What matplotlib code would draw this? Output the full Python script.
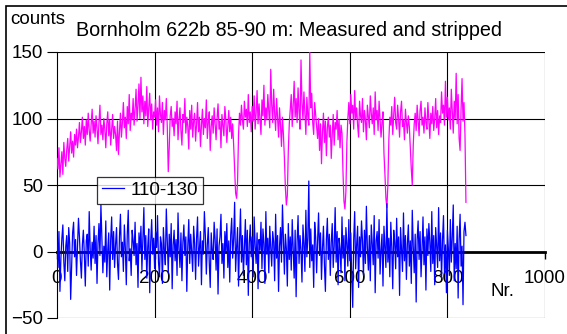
import numpy as np
import matplotlib
matplotlib.use("Agg")
import matplotlib.pyplot as plt
from matplotlib.patches import Rectangle

plt.rcParams['font.family'] = ['Liberation Sans', 'DejaVu Sans']

# ---- data ----
step = 2
measured = [
    70, 62, 78, 56, 66, 75, 58, 82, 70, 64, 77, 85, 68, 79, 90, 74, 83, 71, 88, 80,
    92, 78, 86, 97, 82, 90, 101, 85, 94, 80, 99, 88, 104, 91, 83, 96, 107, 89, 98, 86,
    102, 93, 81, 97, 110, 88, 95, 84, 100, 92, 78, 96, 105, 87, 99, 80, 91, 103, 85, 94,
    88, 76, 98, 73, 90, 104, 86, 97, 112, 93, 101, 85, 109, 96, 118, 91, 104, 99, 115, 95,
    107, 122, 98, 110, 126, 100, 131, 105, 117, 96, 113, 102, 124, 94, 108, 119, 99, 111, 92, 105,
    101, 114, 95, 108, 90, 117, 103, 97, 112, 88, 106, 99, 115, 93, 60, 78, 102, 109, 94, 100,
    87, 105, 96, 113, 84, 99, 108, 91, 80, 103, 97, 115, 89, 101, 94, 77, 106, 92, 110, 86,
    98, 104, 83, 96, 112, 90, 101, 79, 95, 107, 88, 100, 93, 114, 85, 97, 105, 76, 94, 102,
    89, 108, 96, 84, 100, 111, 92, 98, 78, 103, 95, 87, 109, 99, 82, 94, 106, 90, 101, 85,
    96, 80, 62, 44, 40, 52, 88, 104, 95, 110, 99, 92, 113, 101, 107, 94, 118, 97, 105, 90,
    109, 98, 117, 92, 104, 121, 96, 111, 100, 88, 114, 102, 125, 95, 108, 99, 118, 106, 93, 137,
    110, 97, 122, 104, 91, 115, 100, 86, 108, 95, 79, 101, 88, 70, 48, 35, 42, 76, 96, 107,
    118, 94, 110, 128, 101, 115, 97, 123, 106, 92, 144, 112, 99, 120, 104, 88, 116, 102, 95, 150,
    108, 119, 97, 88, 112, 103, 94, 85, 100, 76, 96, 66, 90, 104, 82, 98, 72, 93, 101, 86,
    95, 70, 88, 103, 80, 97, 92, 106, 84, 99, 78, 95, 89, 60, 38, 32, 45, 82, 100, 112,
    96, 118, 104, 110, 92, 121, 100, 108, 95, 86, 113, 102, 97, 115, 90, 106, 99, 84, 110, 101,
    93, 117, 104, 96, 108, 88, 120, 99, 106, 91, 113, 100, 86, 97, 105, 74, 58, 40, 33, 50,
    84, 101, 95, 109, 88, 103, 116, 97, 92, 110, 100, 86, 105, 113, 94, 99, 84, 107, 97, 89,
    102, 94, 78, 62, 50, 80, 96, 104, 91, 110, 99, 87, 106, 113, 95, 101, 89, 108, 97, 92,
    112, 98, 85, 104, 96, 109, 91, 100, 115, 93, 106, 88, 102, 97, 120, 104, 110, 95, 128, 101,
    116, 99, 108, 92, 122, 105, 89, 113, 100, 134, 96, 118, 85, 76, 107, 130, 98, 112, 88, 37,
]
stripped = [
    8, -12, 15, -30, -5, 10, 20, -8, -22, 4, 12, -15, 18, 6, -36, -10, 14, 22, -4, 9,
    -18, 3, 25, 11, -7, -20, 5, 16, -2, -26, 8, 13, -11, 30, 2, -14, 7, -5, 19, -9,
    12, -24, 6, 21, -3, 35, 10, -16, 4, -8, 23, -19, 1, 14, -29, 9, 26, -6, 15, -12,
    5, 18, -9, -21, 11, 28, -4, 7, -15, 20, 3, -25, 13, 31, -7, 2, -18, 16, 8, -3,
    22, -10, 6, -27, 14, 0, 19, -14, 9, 33, -6, 12, -20, 4, 17, -31, 7, 24, -2, 10,
    -13, 15, 3, 27, -8, -19, 11, 6, -24, 18, 1, -10, 32, 8, -16, 13, -4, 21, -28, 5,
    16, -7, 9, -18, 29, 2, -12, 14, -22, 7, 20, -3, 11, -30, 4, 24, -9, 13, 0, -15,
    19, 6, -21, 10, 26, -11, 3, 15, -25, 8, -2, 30, 12, -17, 5, 18, -8, -27, 14, 1,
    -6, 22, 9, -14, 17, -32, 4, 11, 28, -9, 6, -20, 15, 0, 21, -12, 8, -23, 13, 25,
    -5, 10, 37, -15, 3, 18, -26, 7, 32, -8, 12, -18, 2, 24, -10, 16, -33, 6, 20, -4,
    11, -19, 26, 5, -9, 14, -28, 9, 1, 22, -13, 17, 6, -24, 30, -2, 10, -16, 19, 3,
    -11, 15, 7, -22, 28, -5, 12, -30, 4, 18, -8, 35, 9, -17, 13, 2, -26, 21, -6, 11,
    -14, 24, 3, -20, 16, -34, 8, 27, -9, 12, 1, -23, 20, 6, -15, 31, -4, 10, 53, -12,
    17, -7, 5, -27, 22, 11, -16, 8, 29, -3, 14, -21, 2, 19, -10, -30, 9, 25, -6, 13,
    -18, 7, 21, -12, 4, 33, -8, 15, -25, 10, 2, -16, 26, -5, 12, -22, 18, 6, -11, 24,
    -7, 14, -20, -42, 9, 30, -13, 5, 19, -27, 11, -4, 23, 8, -18, 16, -9, 34, 3, -14,
    12, -22, 20, 6, -10, 27, -31, 8, 15, -5, 24, -17, 1, 13, -26, 19, 4, -12, 36, -8,
    10, -19, 22, 3, -28, 16, 7, -13, 25, -4, 11, -33, 18, 2, -15, 29, -7, 12, -21, 6,
    20, -11, 8, -24, 31, 4, -16, 13, -38, 9, 23, -6, 15, -19, 2, 26, -10, 11, -29, 17,
    -3, 21, 7, -15, 30, -9, 12, -25, 18, 4, -12, 33, -7, 14, -20, 9, 27, -16, 5, -31,
    16, 2, -18, 24, -8, 11, 35, -22, 6, -13, 19, -35, 9, 28, -11, 4, -40, 15, 22, 12,
]
nr = np.arange(len(measured)) * step
x_ticks = [0, 200, 400, 600, 800, 1000]
y_ticks = [-50, 0, 50, 100, 150]
legend_label = "110-130"
title = "Bornholm 622b 85-90 m: Measured and stripped"

W, H = 567, 334
fig = plt.figure(figsize=(W / 100, H / 100), dpi=100)
fig.patches.append(Rectangle((6 / W, -0.1), 1.2, 1 - 6 / H + 0.1, transform=fig.transFigure,
                             fill=False, edgecolor='black', linewidth=1.2))

ax = fig.add_axes([57 / W, 1 - 318 / H, (545 - 57) / W, (318 - 52) / H])
ax.set_xlim(0, 1000)
ax.set_ylim(-50, 150)

ax.plot(nr, measured, color='#FF00FF', linewidth=0.9, zorder=3)
ax.plot(nr, stripped, color='#0000FF', linewidth=0.9, zorder=4, label=legend_label)

for yv in [-50, 50, 100, 150]:
    ax.axhline(yv, color='black', linewidth=0.8, zorder=1)
for xv in [200, 400, 600, 800, 1000]:
    ax.axvline(xv, color='black', linewidth=0.8, zorder=1)

for s in ['top', 'right']:
    ax.spines[s].set_visible(False)
ax.spines['bottom'].set_position(('data', 0))
ax.spines['bottom'].set_linewidth(2.0)
ax.spines['bottom'].set_zorder(2)
ax.spines['left'].set_linewidth(0.8)

fs = 13.5
ax.set_xticks(x_ticks)
ax.set_yticks(y_ticks)
ax.tick_params(axis='x', direction='out', length=5, width=1.0, pad=8, labelsize=fs)
ax.tick_params(axis='y', direction='out', length=7, width=0.8, pad=3, labelsize=fs)

leg = ax.legend(loc='upper left', bbox_to_anchor=((97 - 57) / 488, (318 - 177) / 266),
                borderaxespad=0, fontsize=fs, frameon=True, fancybox=False,
                handlelength=1.2, handletextpad=0.35, borderpad=0.25)
leg.get_frame().set_edgecolor('black')
leg.get_frame().set_linewidth(0.9)
leg.set_zorder(10)

fig.text(10 / W, 1 - 19 / H, "counts", fontsize=fs, ha='left', va='center')
fig.text(76 / W, 1 - 30 / H, title, fontsize=14.2, ha='left', va='center')
fig.text(490 / W, 1 - 291 / H, "Nr.", fontsize=fs, ha='left', va='center')

fig.savefig("out.png", dpi=100)
